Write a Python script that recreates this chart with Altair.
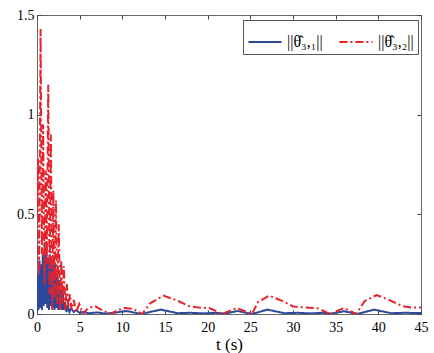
import altair as alt
import pandas as pd

S1 = "||θ̂₃,₁||"
S2 = "||θ̂₃,₂||"

blue_t = [0.00, 0.10, 0.18, 0.28, 0.38, 0.48, 0.58, 0.68, 0.78, 0.90, 1.00, 1.10, 1.20, 1.30,
          1.40, 1.50, 1.60, 1.72, 1.82, 1.95, 2.05, 2.17, 2.28, 2.40, 2.50, 2.62, 2.72, 2.85,
          2.95, 3.05, 3.18, 3.30, 3.45, 3.60, 3.80, 4.00, 4.30, 4.60, 5.00, 5.50, 6.00, 7.00,
          8.00, 9.00, 10.5, 12.2, 14.5, 16.5, 18.0, 19.5, 21.0, 22.0, 23.5, 25.2, 27.0, 29.0,
          30.5, 32.0, 33.5, 34.5, 36.0, 37.5, 39.5, 41.5, 43.0, 45.0]
blue_v = [0.00, 0.20, 0.02, 0.27, 0.03, 0.25, 0.02, 0.30, 0.04, 0.36, 0.05, 0.33, 0.03, 0.28,
          0.02, 0.30, 0.04, 0.26, 0.03, 0.29, 0.02, 0.25, 0.03, 0.20, 0.02, 0.17, 0.03, 0.12,
          0.02, 0.10, 0.02, 0.06, 0.01, 0.04, 0.01, 0.03, 0.01, 0.02, 0.005, 0.012, 0.003, 0.008,
          0.002, 0.006, 0.015, 0.0, 0.022, 0.004, 0.006, 0.003, 0.006, 0.002, 0.015, 0.0, 0.022, 0.004,
          0.006, 0.003, 0.006, 0.002, 0.014, 0.0, 0.022, 0.004, 0.006, 0.005]

red_t = [0.00, 0.12, 0.25, 0.42, 0.58, 0.72, 0.88, 1.02, 1.15, 1.32, 1.48, 1.62, 1.78, 1.92,
         2.05, 2.22, 2.38, 2.55, 2.70, 2.85, 3.00, 3.15, 3.32, 3.50, 3.68, 3.85, 4.05, 4.30,
         4.60, 4.95, 5.40, 6.00, 6.80, 7.60, 8.60, 9.50, 10.3, 11.3, 12.3, 13.3, 14.8, 16.3,
         17.8, 19.0, 20.2, 21.7, 23.4, 25.2, 25.9, 27.2, 28.8, 30.0, 31.5, 33.0, 34.3, 36.0,
         37.4, 38.4, 39.8, 41.3, 42.8, 44.0, 45.0]
red_v = [0.50, 0.78, 0.20, 1.43, 0.30, 0.95, 0.15, 0.72, 0.25, 1.15, 0.10, 0.90, 0.02, 0.62,
         0.08, 0.57, 0.05, 0.45, 0.02, 0.27, 0.05, 0.24, 0.02, 0.15, 0.03, 0.10, 0.02, 0.07,
         0.01, 0.05, 0.00, 0.03, 0.04, 0.02, 0.00, 0.02, 0.03, 0.025, 0.0, 0.055, 0.092, 0.07,
         0.04, 0.032, 0.03, 0.0, 0.03, 0.0, 0.06, 0.092, 0.065, 0.038, 0.032, 0.028, 0.0, 0.03,
         0.0, 0.065, 0.095, 0.07, 0.04, 0.032, 0.032]

x_ticks = [0, 5, 10, 15, 20, 25, 30, 35, 40, 45]
y_ticks = [0, 0.5, 1, 1.5]

df = pd.concat([
    pd.DataFrame({"t": blue_t, "v": blue_v, "s": S1, "o": list(range(len(blue_t)))}),
    pd.DataFrame({"t": red_t, "v": red_v, "s": S2, "o": list(range(len(red_t)))}),
])

FONT = "Liberation Serif"
xs = alt.Scale(domain=[0, 45], nice=False, zero=False)
ys = alt.Scale(domain=[0, 1.5], nice=False)

main = alt.Chart(df).mark_line(strokeWidth=2, clip=True).encode(
    x=alt.X("t:Q", scale=xs, axis=alt.Axis(values=x_ticks, tickSize=0, domain=False, grid=False,
            labelPadding=6, title="t (s)", titleFontSize=17, titleFontWeight="normal",
            titleFont=FONT, labelFont=FONT, labelFontSize=14, labelColor="#000", titleColor="#000",
            titlePadding=2, labelFlush=False, format="~g")),
    y=alt.Y("v:Q", scale=ys, axis=alt.Axis(values=y_ticks, tickSize=0, domain=False, grid=False,
            labelPadding=3, title=None, labelFont=FONT, labelFontSize=14, labelColor="#000",
            labelFlush=False, format="~g")),
    color=alt.Color("s:N", scale=alt.Scale(domain=[S1, S2], range=["#2c4a9c", "#e8222b"]),
                    legend=alt.Legend(title=None, orient="none", legendX=206, legendY=5,
                                      direction="horizontal", symbolType="stroke", symbolSize=1100,
                                      symbolStrokeWidth=2, labelFont=FONT, labelFontSize=16,
                                      labelColor="#000", strokeColor="#555", fillColor="#fff",
                                      padding=4, columnPadding=12, labelOffset=4)),
    strokeDash=alt.StrokeDash("s:N", scale=alt.Scale(domain=[S1, S2], range=[[1, 0], [8, 3, 2, 3]]),
                              legend=None),
    order="o:Q",
)

def ghost(xorient, yorient):
    return alt.Chart(df).mark_line(opacity=0).encode(
        x=alt.X("t:Q", scale=xs, axis=alt.Axis(orient=xorient, values=x_ticks, offset=-4, tickSize=4,
                labels=False, domain=False, grid=False, title=None, tickColor="#444")),
        y=alt.Y("v:Q", scale=ys, axis=alt.Axis(orient=yorient, values=y_ticks, offset=-4, tickSize=4,
                labels=False, domain=False, grid=False, title=None, tickColor="#444")),
        detail="s:N",
        order="o:Q",
    )

chart = alt.layer(main, ghost("bottom", "left"), ghost("top", "right")).resolve_axis(
    x="independent", y="independent"
).properties(
    width=384, height=299, autosize="none",
    padding={"left": 37, "top": 15, "right": 13, "bottom": 39},
    background="white",
).configure(font=FONT).configure_view(stroke="#666", strokeWidth=1)

chart.save("out.html", embed_options={"renderer": "svg", "actions": False})
